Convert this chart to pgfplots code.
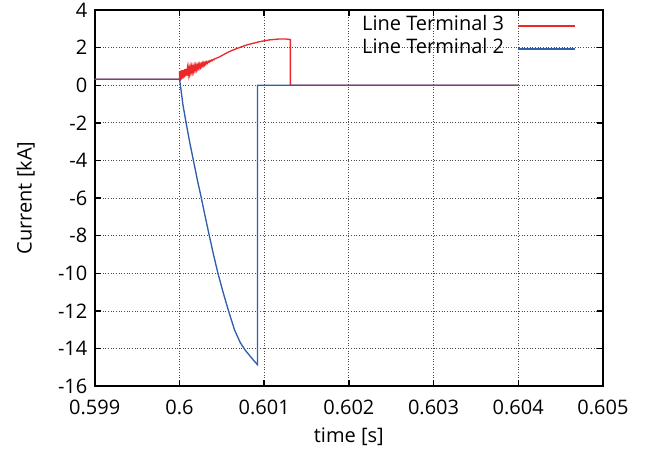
\documentclass[border=0pt]{standalone}
\usepackage{pgfplots}
\pgfplotsset{compat=1.18}
\usepackage{fontspec}
\setmainfont{Open Sans}
\definecolor{tred}{RGB}{236,40,40}
\definecolor{tblue}{RGB}{47,95,170}
\begin{document}
\begin{tikzpicture}
\begin{axis}[
  scale only axis,
  width=381pt, height=282pt,
  xmin=0.599, xmax=0.605, ymin=-16, ymax=4,
  xtick={0.599,0.6,0.601,0.602,0.603,0.604,0.605},
  xticklabels={0.599,0.6,0.601,0.602,0.603,0.604,0.605},
  ytick={-16,-14,...,4},
  scaled x ticks=false,
  /pgf/number format/assume math mode=true,
  tick align=inside,
  major tick length=4.5pt,
  tick style={black, line width=1pt},
  axis line style={black, line width=1.3pt},
  grid=major,
  major grid style={black!70, line width=0.6pt, dash pattern=on 0.6pt off 1.4pt},
  ticklabel style={font=\fontsize{15}{17}\selectfont},
  label style={font=\fontsize{15}{17}\selectfont},
  xlabel={time [s]},
  ylabel={Current [kA]},
  xticklabel style={yshift=-7pt},
  yticklabel style={xshift=-2pt},
  xlabel style={at={(axis description cs:0.5,-0.135)}, anchor=center},
  ylabel style={at={(axis description cs:-0.136,0.5)}, anchor=center},
  legend plot pos=right,
  legend cell align=right,
  legend style={at={(axis description cs:1,1)}, anchor=north east, xshift=-20pt, yshift=-4.5pt,
    draw=none, fill=none, inner sep=0pt, column sep=10pt, row sep=2.25pt,
    nodes={inner sep=0pt, text height=11pt, text depth=4pt},
    font=\fontsize{15}{17}\selectfont},
  legend image code/.code={\draw[#1, line width=1.2pt] (0cm,0cm) -- (1.5cm,0cm);},
]
\addplot[tred, line width=1pt] table {
x y
0.599 0.32
0.600000 0.32
0.600002 0.75
0.600008 0.22
0.600016 0.78
0.600024 0.30
0.600032 0.80
0.600040 0.36
0.600048 0.82
0.600056 0.42
0.600064 0.86
0.600072 0.48
0.600080 0.88
0.600088 0.52
0.600096 0.90
0.600104 0.58
0.600112 0.93
0.600120 0.63
0.600128 0.95
0.600136 0.68
0.600144 0.97
0.600152 0.72
0.600160 0.99
0.600168 0.75
0.600176 1.01
0.600184 0.80
0.600192 1.04
0.600200 0.84
0.600208 1.06
0.600216 0.88
0.600224 1.08
0.600232 0.92
0.600240 1.11
0.600248 0.96
0.600256 1.13
0.600264 1.00
0.600272 1.16
0.600280 1.04
0.600288 1.19
0.600296 1.08
0.600304 1.21
0.600312 1.12
0.600320 1.24
0.600330 1.17
0.600340 1.27
0.600350 1.22
0.600360 1.31
0.600370 1.27
0.600380 1.34
0.600390 1.31
0.600400 1.38
0.600410 1.36
0.600420 1.41
0.600470 1.50
0.600550 1.70
0.600620 1.85
0.600700 1.99
0.600800 2.15
0.600940 2.31
0.601060 2.41
0.601180 2.46
0.601250 2.46
0.601310 2.43
0.601310 0
0.604 0
};
\addlegendentry{Line Terminal 3}
\addplot[tblue, line width=1pt] table {
x y
0.599 0.32
0.600000 0.32
0.600012 0
0.600040 -1.0
0.600079 -2
0.600120 -3
0.600165 -4
0.600210 -5
0.600259 -6
0.600305 -7
0.600353 -8
0.600402 -9
0.600455 -10
0.600515 -11
0.600580 -12
0.600650 -13
0.600720 -13.7
0.600780 -14.1
0.600843 -14.45
0.600890 -14.7
0.600921 -14.85
0.600921 0
0.604 0
};
\addlegendentry{Line Terminal 2}
\coordinate (sw) at (rel axis cs:0,0);
\coordinate (ne) at (rel axis cs:1,1);
\end{axis}
\pgfresetboundingbox
\path ([shift={(-71pt,-53pt)}]sw) rectangle ([shift={(34.5pt,7.5pt)}]ne);
\end{tikzpicture}
\end{document}
